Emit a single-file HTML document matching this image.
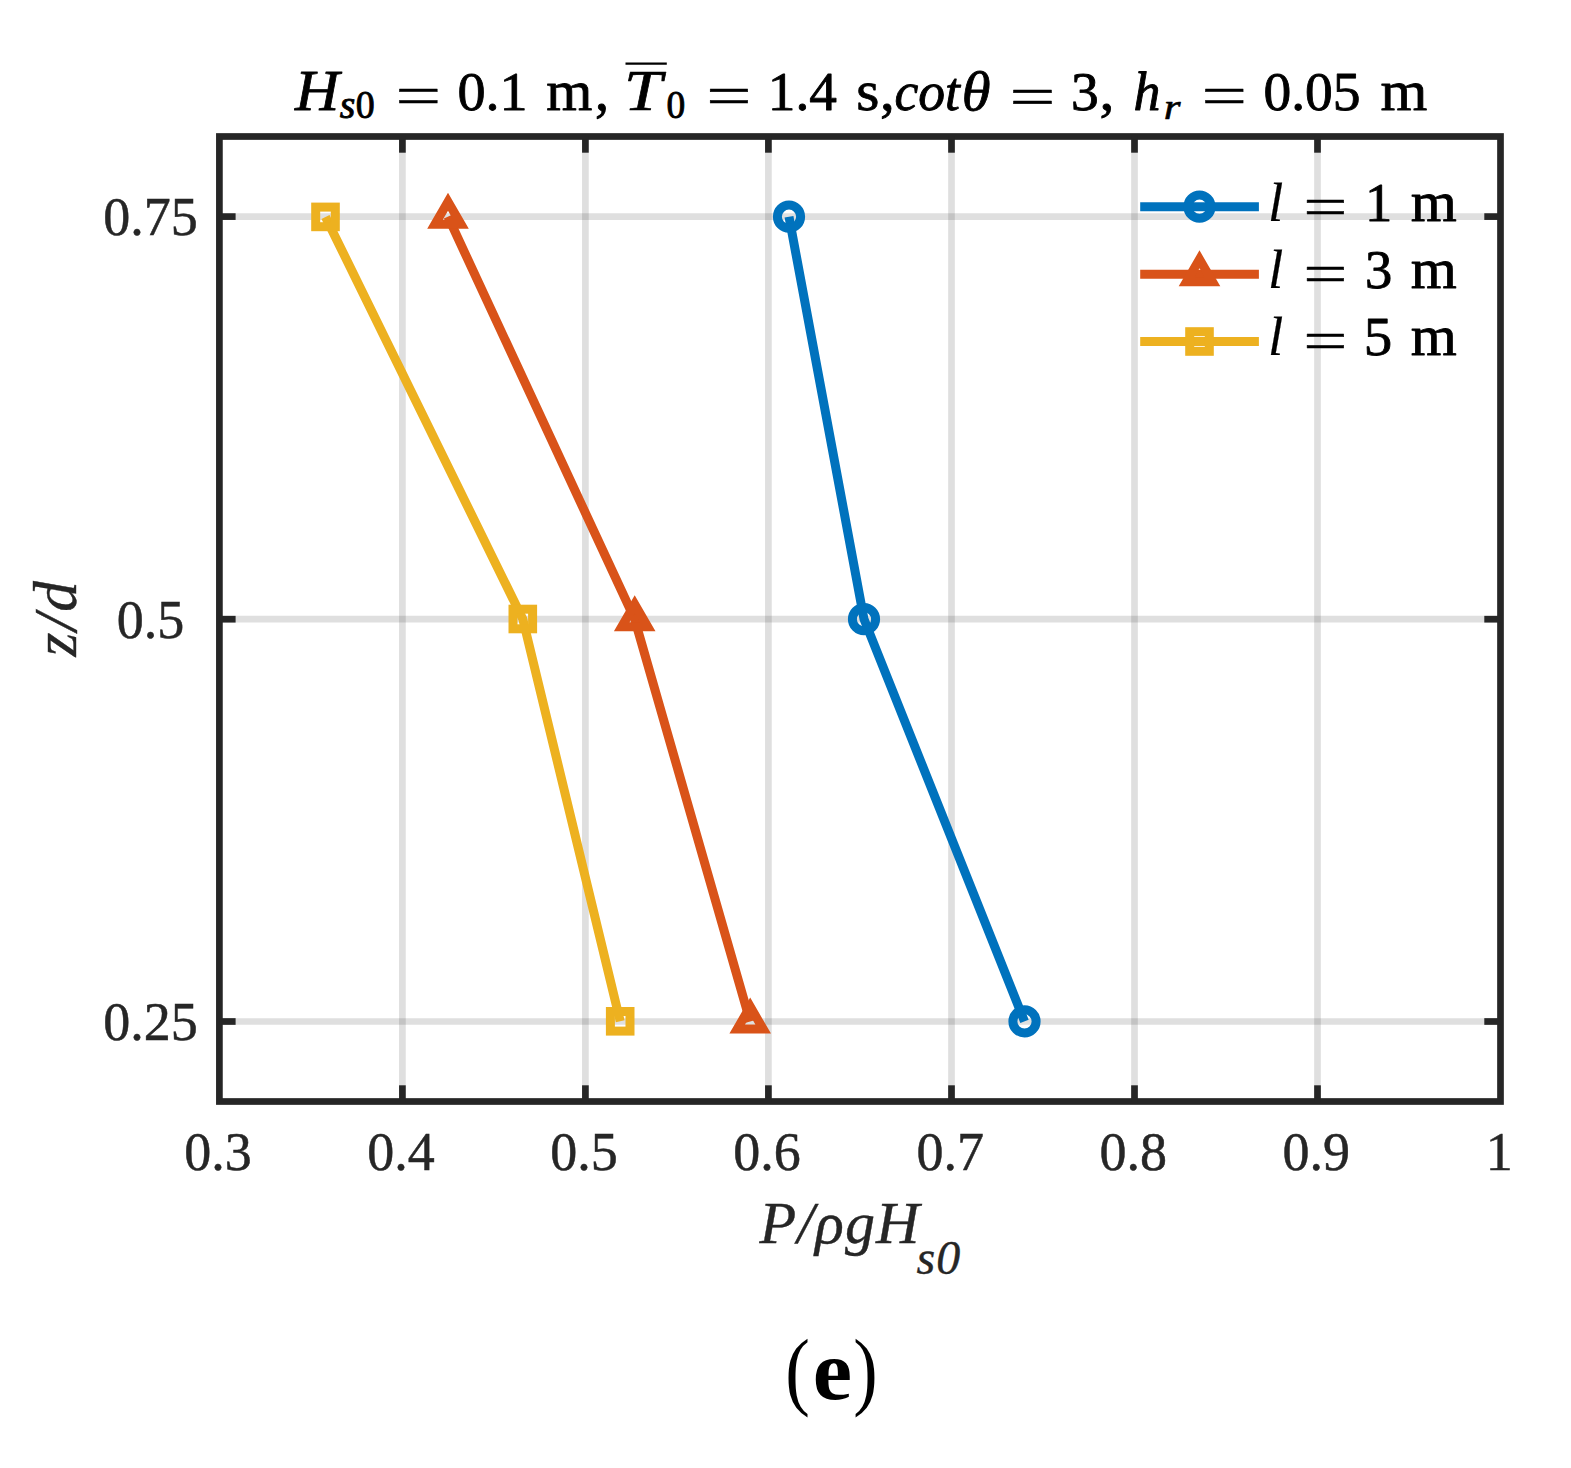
<!DOCTYPE html>
<html lang="en"><head><meta charset="utf-8"><title>Figure (e)</title>
<style>html,body{margin:0;padding:0;background:#fff}body{width:1571px;height:1468px;overflow:hidden}</style></head>
<body>
<svg width="1571" height="1468" viewBox="0 0 1571 1468" style="display:block">
<rect width="1571" height="1468" fill="#fff"/>
<g stroke="#262626" stroke-opacity="0.15" stroke-width="6.7" fill="none">
<line x1="402.4" y1="136.5" x2="402.4" y2="1101.5"/>
<line x1="585.4" y1="136.5" x2="585.4" y2="1101.5"/>
<line x1="768.4" y1="136.5" x2="768.4" y2="1101.5"/>
<line x1="951.5" y1="136.5" x2="951.5" y2="1101.5"/>
<line x1="1134.5" y1="136.5" x2="1134.5" y2="1101.5"/>
<line x1="1317.5" y1="136.5" x2="1317.5" y2="1101.5"/>
<line x1="219.4" y1="216.6" x2="1500.5" y2="216.6"/>
<line x1="219.4" y1="619.2" x2="1500.5" y2="619.2"/>
<line x1="219.4" y1="1021.5" x2="1500.5" y2="1021.5"/>
</g>
<polyline points="789.0,216.7 864.0,619.2 1024.5,1021.4" fill="none" stroke="#0072BD" stroke-width="9.0" stroke-linejoin="round" stroke-linecap="butt"/>
<circle cx="789.0" cy="216.7" r="11.6" fill="none" stroke="#0072BD" stroke-width="9.0"/>
<circle cx="864.0" cy="619.2" r="11.6" fill="none" stroke="#0072BD" stroke-width="9.0"/>
<circle cx="1024.5" cy="1021.4" r="11.6" fill="none" stroke="#0072BD" stroke-width="9.0"/>
<polyline points="448.0,216.7 634.7,619.2 750.2,1021.6" fill="none" stroke="#D95319" stroke-width="9.0" stroke-linejoin="round" stroke-linecap="butt"/>
<polygon points="448.0,201.7 435.0,224.2 461.0,224.2" fill="none" stroke="#D95319" stroke-width="9.0" stroke-linejoin="miter" stroke-miterlimit="10"/>
<polygon points="634.7,604.2 621.7,626.7 647.7,626.7" fill="none" stroke="#D95319" stroke-width="9.0" stroke-linejoin="miter" stroke-miterlimit="10"/>
<polygon points="750.2,1006.6 737.2,1029.1 763.2,1029.1" fill="none" stroke="#D95319" stroke-width="9.0" stroke-linejoin="miter" stroke-miterlimit="10"/>
<polyline points="325.5,216.9 522.8,619.0 620.2,1021.3" fill="none" stroke="#EDB120" stroke-width="9.0" stroke-linejoin="round" stroke-linecap="butt"/>
<rect x="315.7" y="207.1" width="19.6" height="19.6" fill="none" stroke="#EDB120" stroke-width="9.0" stroke-linejoin="miter"/>
<rect x="513.0" y="609.2" width="19.6" height="19.6" fill="none" stroke="#EDB120" stroke-width="9.0" stroke-linejoin="miter"/>
<rect x="610.4" y="1011.5" width="19.6" height="19.6" fill="none" stroke="#EDB120" stroke-width="9.0" stroke-linejoin="miter"/>
<line x1="1140.2" y1="206.7" x2="1258.9" y2="206.7" stroke="#0072BD" stroke-width="9.0"/>
<circle cx="1199.5" cy="206.7" r="11.6" fill="none" stroke="#0072BD" stroke-width="9.0"/>
<line x1="1140.2" y1="274.3" x2="1258.9" y2="274.3" stroke="#D95319" stroke-width="9.0"/>
<polygon points="1199.5,259.3 1186.5,281.8 1212.5,281.8" fill="none" stroke="#D95319" stroke-width="9.0" stroke-linejoin="miter" stroke-miterlimit="10"/>
<line x1="1140.2" y1="341.5" x2="1258.9" y2="341.5" stroke="#EDB120" stroke-width="9.0"/>
<rect x="1189.7" y="331.7" width="19.6" height="19.6" fill="none" stroke="#EDB120" stroke-width="9.0" stroke-linejoin="miter"/>
<g stroke="#262626" stroke-width="6.7" fill="none">
<rect x="219.4" y="136.5" width="1281.1" height="965.0" stroke-linejoin="miter"/>
<line x1="402.4" y1="1101.5" x2="402.4" y2="1085.3"/>
<line x1="402.4" y1="136.5" x2="402.4" y2="152.7"/>
<line x1="585.4" y1="1101.5" x2="585.4" y2="1085.3"/>
<line x1="585.4" y1="136.5" x2="585.4" y2="152.7"/>
<line x1="768.4" y1="1101.5" x2="768.4" y2="1085.3"/>
<line x1="768.4" y1="136.5" x2="768.4" y2="152.7"/>
<line x1="951.5" y1="1101.5" x2="951.5" y2="1085.3"/>
<line x1="951.5" y1="136.5" x2="951.5" y2="152.7"/>
<line x1="1134.5" y1="1101.5" x2="1134.5" y2="1085.3"/>
<line x1="1134.5" y1="136.5" x2="1134.5" y2="152.7"/>
<line x1="1317.5" y1="1101.5" x2="1317.5" y2="1085.3"/>
<line x1="1317.5" y1="136.5" x2="1317.5" y2="152.7"/>
<line x1="219.4" y1="216.6" x2="235.6" y2="216.6"/>
<line x1="1500.5" y1="216.6" x2="1484.3" y2="216.6"/>
<line x1="219.4" y1="619.2" x2="235.6" y2="619.2"/>
<line x1="1500.5" y1="619.2" x2="1484.3" y2="619.2"/>
<line x1="219.4" y1="1021.5" x2="235.6" y2="1021.5"/>
<line x1="1500.5" y1="1021.5" x2="1484.3" y2="1021.5"/>
</g>
<line x1="625.5" y1="63.6" x2="666.8" y2="63.6" stroke="#000" stroke-width="2.2"/>
<g font-family="Liberation Serif, serif" stroke="#000" stroke-linejoin="round">
<text transform="translate(295.08 110.1) scale(1.0756 1)" font-size="57" font-style="italic" stroke-width="0.78" fill="#000">H</text>
<text transform="translate(339.80 118.3) scale(1.0133 1)" font-size="39.5" font-style="italic" stroke-width="0.88" fill="#000">s</text>
<text transform="translate(355.84 118.3) scale(0.9611 1)" font-size="39.5" stroke-width="0.90" fill="#000">0</text>
<text transform="translate(395.51 114.89999999999999) scale(1.4444 1)" font-size="56" stroke-width="0.43" fill="#000">=</text>
<text transform="translate(457.43 110.1) scale(1.0347 1)" font-size="54.3" stroke-width="0.84" fill="#000">0.1</text>
<text transform="translate(546.34 110.1) scale(1.0595 1)" font-size="56" stroke-width="0.80" fill="#000">m</text>
<text transform="translate(595.00 110.1) scale(1.0000 1)" font-size="56" stroke-width="0.90" fill="#000">,</text>
<text transform="translate(623.91 110.1) scale(1.1970 1)" font-size="57" font-style="italic" stroke-width="0.63" fill="#000">T</text>
<text transform="translate(666.55 118.3) scale(0.9500 1)" font-size="39.5" stroke-width="0.90" fill="#000">0</text>
<text transform="translate(706.13 114.89999999999999) scale(1.4333 1)" font-size="56" stroke-width="0.44" fill="#000">=</text>
<text transform="translate(767.83 110.1) scale(1.0185 1)" font-size="54.3" stroke-width="0.87" fill="#000">1.4</text>
<text transform="translate(856.28 110.1) scale(1.0611 1)" font-size="56" stroke-width="0.80" fill="#000">s</text>
<text transform="translate(879.89 110.1) scale(1.0556 1)" font-size="56" stroke-width="0.81" fill="#000">,</text>
<text transform="translate(894.43 110.1) scale(0.9748 1)" font-size="55" font-style="italic" stroke-width="0.90" fill="#000">cot</text>
<text transform="translate(961.87 110.1) scale(1.0667 1)" font-size="55" font-style="italic" stroke-width="0.79" fill="#000">θ</text>
<text transform="translate(1009.60 114.89999999999999) scale(1.4519 1)" font-size="56" stroke-width="0.43" fill="#000">=</text>
<text transform="translate(1070.96 110.1) scale(1.0208 1)" font-size="54.3" stroke-width="0.86" fill="#000">3</text>
<text transform="translate(1099.47 110.1) scale(1.0667 1)" font-size="56" stroke-width="0.79" fill="#000">,</text>
<text transform="translate(1133.42 110.1) scale(0.9800 1)" font-size="55" font-style="italic" stroke-width="0.90" fill="#000">h</text>
<text transform="translate(1163.77 118.6) scale(1.2308 1)" font-size="35" font-style="italic" stroke-width="0.59" fill="#000">r</text>
<text transform="translate(1201.52 114.89999999999999) scale(1.4407 1)" font-size="56" stroke-width="0.43" fill="#000">=</text>
<text transform="translate(1263.46 110.1) scale(1.0221 1)" font-size="54.3" stroke-width="0.86" fill="#000">0.05</text>
<text transform="translate(1380.62 110.1) scale(1.0762 1)" font-size="56" stroke-width="0.78" fill="#000">m</text>
<text transform="translate(1268.00 220.8) scale(1.0000 1)" font-size="55" font-style="italic" stroke-width="0.20" fill="#000">l</text>
<text transform="translate(1303.30 225.60000000000002) scale(1.4000 1)" font-size="56" stroke-width="0.46" fill="#000">=</text>
<text transform="translate(1364.88 220.8) scale(1.0050 1)" font-size="54.3" stroke-width="0.89" fill="#000">1</text>
<text transform="translate(1410.64 220.8) scale(1.0571 1)" font-size="56" stroke-width="0.81" fill="#000">m</text>
<text transform="translate(1268.00 288.1) scale(1.0000 1)" font-size="55" font-style="italic" stroke-width="0.20" fill="#000">l</text>
<text transform="translate(1303.30 292.90000000000003) scale(1.4000 1)" font-size="56" stroke-width="0.46" fill="#000">=</text>
<text transform="translate(1364.89 288.1) scale(1.0042 1)" font-size="54.3" stroke-width="0.89" fill="#000">3</text>
<text transform="translate(1410.64 288.1) scale(1.0571 1)" font-size="56" stroke-width="0.81" fill="#000">m</text>
<text transform="translate(1268.00 355.4) scale(1.0000 1)" font-size="55" font-style="italic" stroke-width="0.20" fill="#000">l</text>
<text transform="translate(1303.30 360.2) scale(1.4000 1)" font-size="56" stroke-width="0.46" fill="#000">=</text>
<text transform="translate(1363.76 355.4) scale(1.0478 1)" font-size="54.3" stroke-width="0.82" fill="#000">5</text>
<text transform="translate(1410.64 355.4) scale(1.0571 1)" font-size="56" stroke-width="0.81" fill="#000">m</text>
<text transform="translate(785.15 1399) scale(0.8500 1)" font-size="87" stroke-width="0.00" fill="#000">(</text>
<text transform="translate(812.83 1399) scale(1.0353 1)" font-size="85.5" font-weight="bold" stroke-width="0.00" fill="#000">e</text>
<text transform="translate(853.32 1399) scale(0.8417 1)" font-size="87" stroke-width="0.00" fill="#000">)</text>
</g>
<g font-family="Liberation Serif, serif" font-size="54" fill="#262626" stroke="#262626" stroke-width="0.5" text-anchor="middle">
<text x="218.1" y="1170">0.3</text>
<text x="401.1" y="1170">0.4</text>
<text x="584.1" y="1170">0.5</text>
<text x="767.1" y="1170">0.6</text>
<text x="950.2" y="1170">0.7</text>
<text x="1133.2" y="1170">0.8</text>
<text x="1316.2" y="1170">0.9</text>
<text x="1499.2" y="1170">1</text>
<text x="150.6" y="234.9">0.75</text>
<text x="150.6" y="637.5">0.5</text>
<text x="150.6" y="1039.8">0.25</text>
</g>
<g font-family="Liberation Serif, serif" font-style="italic" fill="#262626" stroke="#262626" stroke-width="0.4">
<text x="759.5" y="1243.2" font-size="60" letter-spacing="1.1">P/ρgH</text>
<text x="916.5" y="1274" font-size="48" letter-spacing="1">s0</text>
<text transform="translate(76.3 656.5) rotate(-90)" font-size="61" letter-spacing="2">z/d</text>
</g>
</svg>
</body></html>
